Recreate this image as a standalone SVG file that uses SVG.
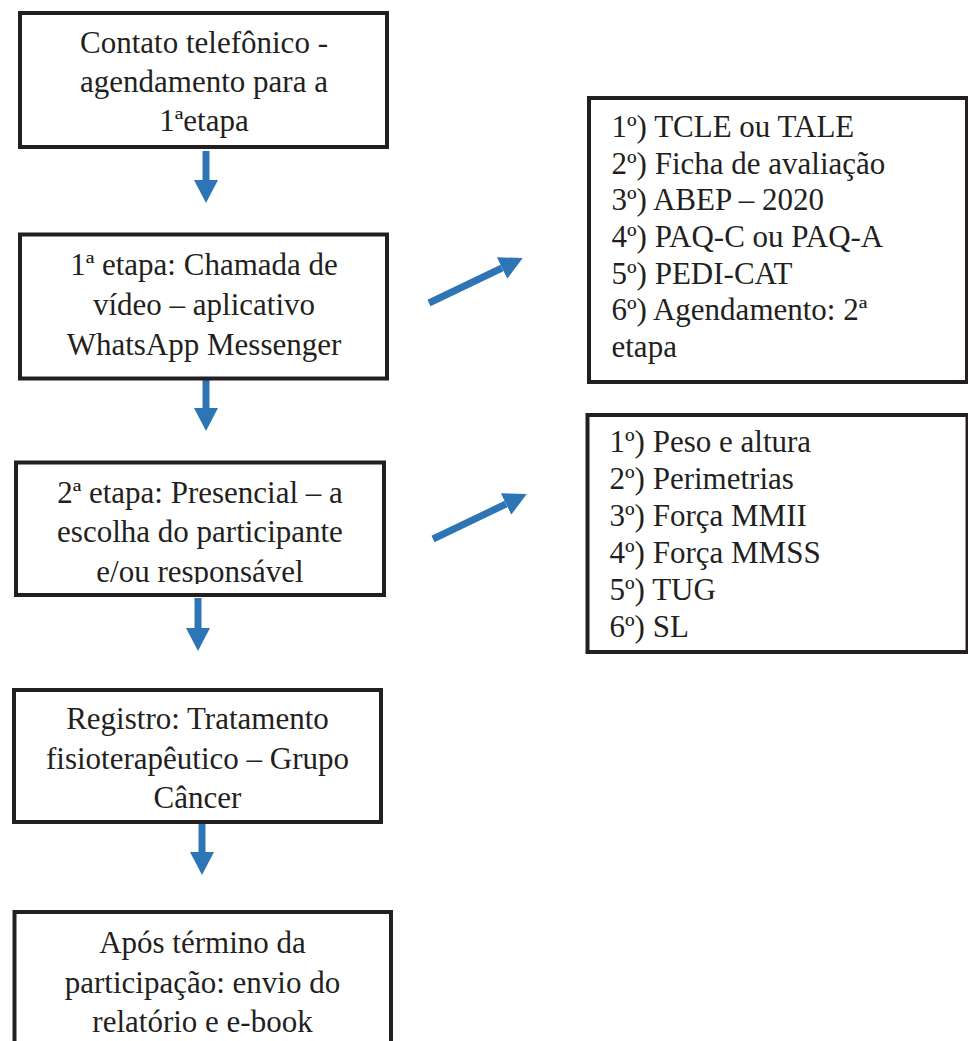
<svg xmlns="http://www.w3.org/2000/svg" width="968" height="1041" viewBox="0 0 968 1041">
  <style>
    .box { fill: #ffffff; stroke: #231f20; stroke-width: 4; }
    .t { font-family: "Liberation Serif", serif; font-size: 31px; fill: #231f20; }
    .c { text-anchor: middle; }
    .arr { stroke: #2e75b6; stroke-width: 7; fill: none; marker-end: url(#head); }
  </style>
  <defs>
    <marker id="head" markerUnits="userSpaceOnUse" markerWidth="23" markerHeight="24" viewBox="0 0 23 24" refX="0" refY="12" orient="auto">
      <path d="M0,0 L23,12 L0,24 Z" fill="#2e75b6"/>
    </marker>
    <clipPath id="clip3">
      <rect x="18" y="464" width="364" height="120"/>
    </clipPath>
  </defs>
  <rect width="968" height="1041" fill="#ffffff"/>

  <g id="connectors">
    <line class="arr" x1="206" y1="151" x2="206" y2="180"/>
    <line class="arr" x1="206" y1="379" x2="206" y2="408"/>
    <line class="arr" x1="198" y1="598" x2="198" y2="628"/>
    <line class="arr" x1="202" y1="823" x2="202" y2="852"/>
    <line class="arr" x1="429" y1="303" x2="502" y2="268"/>
    <line class="arr" x1="433" y1="539" x2="506" y2="504"/>
  </g>

  <g id="node1">
    <rect class="box" x="20" y="13" width="367" height="134"/>
    <text class="t c" x="204" y="53">Contato telefônico -</text>
    <text class="t c" x="204" y="92">agendamento para a</text>
    <text class="t c" x="204" y="131">1ªetapa</text>
  </g>

  <g id="node2">
    <rect class="box" x="20" y="234.5" width="367" height="144"/>
    <text class="t c" x="204" y="274.5">1ª etapa: Chamada de</text>
    <text class="t c" x="204" y="315">vídeo – aplicativo</text>
    <text class="t c" x="204" y="355">WhatsApp Messenger</text>
  </g>

  <g id="node3">
    <rect class="box" x="16" y="462.5" width="368" height="132.5"/>
    <g clip-path="url(#clip3)">
      <text class="t c" x="200" y="502.5">2ª etapa: Presencial – a</text>
      <text class="t c" x="200" y="542">escolha do participante</text>
      <text class="t c" x="200" y="581.5">e/ou responsável</text>
    </g>
  </g>

  <g id="node4">
    <rect class="box" x="14" y="690" width="367" height="132"/>
    <text class="t c" x="197.5" y="729">Registro: Tratamento</text>
    <text class="t c" x="197.5" y="768.5">fisioterapêutico – Grupo</text>
    <text class="t c" x="197.5" y="808">Câncer</text>
  </g>

  <g id="node5">
    <rect class="box" x="14.5" y="912" width="376.5" height="200"/>
    <text class="t c" x="202.5" y="953">Após término da</text>
    <text class="t c" x="202.5" y="992.5">participação: envio do</text>
    <text class="t c" x="202.5" y="1032">relatório e e-book</text>
  </g>

  <g id="node6">
    <rect class="box" x="589" y="98" width="378" height="284"/>
    <text class="t" x="611.5" y="137">1º) TCLE ou TALE</text>
    <text class="t" x="611.5" y="173.5">2º) Ficha de avaliação</text>
    <text class="t" x="611.5" y="210">3º) ABEP – 2020</text>
    <text class="t" x="611.5" y="247">4º) PAQ-C ou PAQ-A</text>
    <text class="t" x="611.5" y="283.5">5º) PEDI-CAT</text>
    <text class="t" x="611.5" y="320">6º) Agendamento: 2ª</text>
    <text class="t" x="611.5" y="357">etapa</text>
  </g>

  <g id="node7">
    <rect class="box" x="587.5" y="415" width="380" height="237"/>
    <text class="t" x="609.5" y="452">1º) Peso e altura</text>
    <text class="t" x="609.5" y="489">2º) Perimetrias</text>
    <text class="t" x="609.5" y="526">3º) Força MMII</text>
    <text class="t" x="609.5" y="563">4º) Força MMSS</text>
    <text class="t" x="609.5" y="600">5º) TUG</text>
    <text class="t" x="609.5" y="637">6º) SL</text>
  </g>
</svg>
